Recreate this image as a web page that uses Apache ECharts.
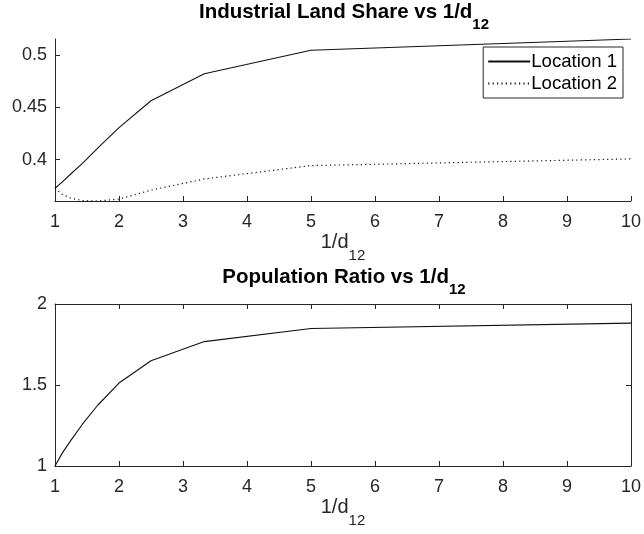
<!DOCTYPE html>
<html>
<head>
<meta charset="utf-8">
<script src="https://cdn.jsdelivr.net/npm/echarts@6/dist/echarts.min.js"></script>
<style>
html,body{margin:0;padding:0;background:#fff;}
#chart{width:644px;height:534px;}
</style>
</head>
<body>
<div id="chart"></div>
<script>
// ---- data ----
var xValues   = [1, 1.111, 1.25, 1.429, 1.667, 2, 2.5, 3.333, 5, 10];
var location1 = [0.3726, 0.3785, 0.3865, 0.3965, 0.4110, 0.4307, 0.4564, 0.4823, 0.5048, 0.5155];
var location2 = [0.3726, 0.3668, 0.3630, 0.3608, 0.3604, 0.3622, 0.3708, 0.3815, 0.3943, 0.4007];
var popRatio  = [1, 1.078, 1.16, 1.258, 1.375, 1.512, 1.65, 1.768, 1.849, 1.882];
var xTicks    = [1, 2, 3, 4, 5, 6, 7, 8, 9, 10];
var topYTicks = [0.4, 0.45, 0.5];
var botYTicks = [1, 1.5, 2];
var seriesNames = ['Location 1', 'Location 2'];
var title1 = 'Industrial Land Share vs 1/d';
var title2 = 'Population Ratio vs 1/d';
var subText = '12';
var xName = '1/d';

function zip(xs, ys) { return xs.map(function (x, i) { return [x, ys[i]]; }); }

var FONT = 'Liberation Sans, Arial, Helvetica, sans-serif';
var AX = '#262626';

function titleRich() {
  return {
    m: { fontSize: 20.5, fontWeight: 'bold', color: '#000', fontFamily: FONT, lineHeight: 21, verticalAlign: 'top' },
    s: { fontSize: 15, fontWeight: 'bold', color: '#000', fontFamily: FONT, lineHeight: 45 }
  };
}
function nameRich() {
  return {
    m: { fontSize: 20, color: AX, fontFamily: FONT, lineHeight: 20, verticalAlign: 'top' },
    s: { fontSize: 15, color: AX, fontFamily: FONT, lineHeight: 47 }
  };
}

function xAxisBase(grid, showName) {
  return {
    type: 'value', gridIndex: grid, min: 1, max: 10, interval: 1,
    axisLine: { show: true, onZero: false, lineStyle: { color: AX, width: 1 } },
    axisTick: { show: true, inside: true, length: 5, lineStyle: { color: AX }, customValues: xTicks },
    axisLabel: { show: true, fontSize: 18, color: AX, fontFamily: FONT, margin: 12, customValues: xTicks },
    splitLine: { show: false },
    name: showName ? '{m|' + xName + '}{s|' + subText + '}' : '',
    nameLocation: 'middle', nameGap: 31,
    nameTextStyle: { rich: nameRich() }
  };
}

var option = {
  backgroundColor: '#fff',
  animation: false,
  title: [
    { text: '{m|' + title1 + '}{s|' + subText + '}', left: 344, textAlign: 'center', top: 2, padding: 0,
      textStyle: { rich: titleRich() } },
    { text: '{m|' + title2 + '}{s|' + subText + '}', left: 344, textAlign: 'center', top: 267, padding: 0,
      textStyle: { rich: titleRich() } }
  ],
  legend: {
    data: seriesNames.map(function (n) { return { name: n, itemStyle: { opacity: 0 } }; }),
    orient: 'vertical',
    right: 21, top: 47,
    padding: [5, 6, 5, 4],
    itemGap: 3,
    itemWidth: 42, itemHeight: 20,
    backgroundColor: '#fff',
    borderColor: AX, borderWidth: 1, borderRadius: 0,
    textStyle: { fontSize: 18.6, color: '#000', fontFamily: FONT, padding: [0, 0, 0, -4] }
  },
  grid: [
    { left: 55, width: 579, top: 39, height: 162 },
    { left: 55, width: 579, top: 304, height: 162 }
  ],
  xAxis: [
    xAxisBase(0, true),
    xAxisBase(1, true),
    (function () {
      var a = xAxisBase(1, false);
      a.position = 'top';
      a.axisLabel = { show: false };
      return a;
    })()
  ],
  yAxis: [
    {
      type: 'value', gridIndex: 0, min: 0.3604, max: 0.5155,
      axisLine: { show: true, onZero: false, lineStyle: { color: AX, width: 1 } },
      axisTick: { show: true, inside: true, length: 5, lineStyle: { color: AX }, customValues: topYTicks },
      axisLabel: { show: true, fontSize: 18, color: AX, fontFamily: FONT, margin: 8, customValues: topYTicks,
        formatter: function (v) { return String(+v.toFixed(4)); } },
      splitLine: { show: false }
    },
    {
      type: 'value', gridIndex: 1, min: 1, max: 2, interval: 0.5,
      axisLine: { show: true, onZero: false, lineStyle: { color: AX, width: 1 } },
      axisTick: { show: true, inside: true, length: 5, lineStyle: { color: AX }, customValues: botYTicks },
      axisLabel: { show: true, fontSize: 18, color: AX, fontFamily: FONT, margin: 8, customValues: botYTicks,
        formatter: function (v) { return String(+v.toFixed(4)); } },
      splitLine: { show: false }
    },
    {
      type: 'value', gridIndex: 1, min: 1, max: 2, interval: 0.5, position: 'right',
      axisLine: { show: true, onZero: false, lineStyle: { color: AX, width: 1 } },
      axisTick: { show: true, inside: true, length: 5, lineStyle: { color: AX }, customValues: botYTicks },
      axisLabel: { show: false },
      splitLine: { show: false }
    }
  ],
  series: [
    { name: seriesNames[0], type: 'line', xAxisIndex: 0, yAxisIndex: 0, data: zip(xValues, location1),
      symbol: 'none', lineStyle: { color: '#111', width: 1.1, type: 'solid' }, itemStyle: { color: '#111' } },
    { name: seriesNames[1], type: 'line', xAxisIndex: 0, yAxisIndex: 0, data: zip(xValues, location2),
      symbol: 'none', lineStyle: { color: '#111', width: 1.2, type: [1.2, 3.2] }, itemStyle: { color: '#111' } },
    { name: 'Population Ratio', type: 'line', xAxisIndex: 1, yAxisIndex: 1, data: zip(xValues, popRatio),
      symbol: 'none', lineStyle: { color: '#111', width: 1.1 }, itemStyle: { color: '#111' } }
  ]
};

var chart = echarts.init(document.getElementById('chart'), null, { renderer: 'canvas' });
chart.setOption(option);
</script>
</body>
</html>
